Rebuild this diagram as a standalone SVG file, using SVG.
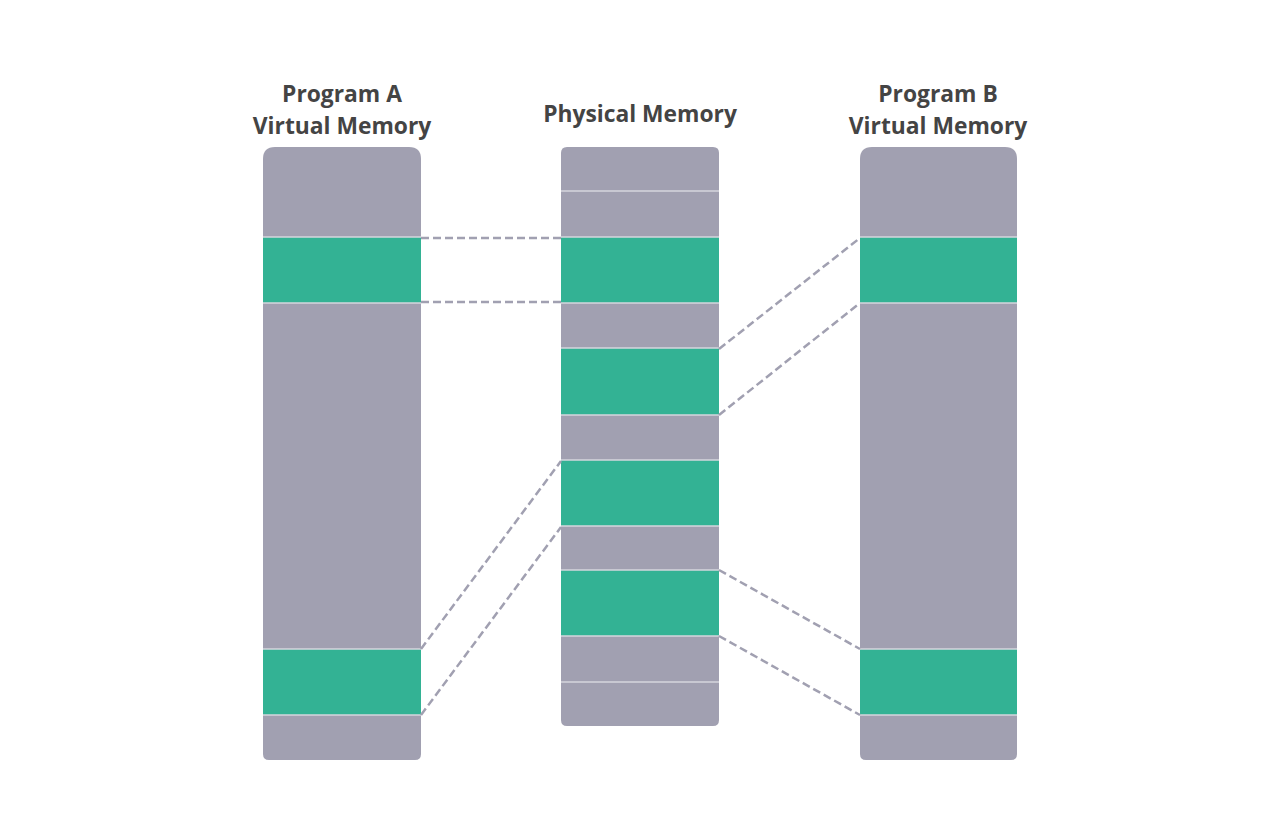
<svg xmlns="http://www.w3.org/2000/svg" width="1280" height="832" viewBox="0 0 1280 832">
<style>
.g{fill:#A1A0B1}
.s{fill:#33B294}
.sep{stroke:#D6D6DE;stroke-width:1.5}
.t{font-family:"Open Sans","Liberation Sans",sans-serif;font-weight:bold;font-size:22.8px;fill:#444444;text-anchor:middle}
.c{stroke:#A1A0B1;stroke-width:2.5;stroke-dasharray:8 4;fill:none}
</style>
<rect width="1280" height="832" fill="#FFFFFF"/>
<g id="progA">
<text class="t" x="342" y="102">Program A</text>
<text class="t" x="342" y="134">Virtual Memory</text>
<path class="g" d="M263,159 Q263,147 275,147 L409,147 Q421,147 421,159 L421,754 Q421,760 415,760 L269,760 Q263,760 263,754 Z"/>
<rect class="s" x="263" y="237" width="158" height="66"/>
<rect class="s" x="263" y="649" width="158" height="66"/>
<line class="sep" x1="263" y1="237" x2="421" y2="237"/>
<line class="sep" x1="263" y1="303" x2="421" y2="303"/>
<line class="sep" x1="263" y1="649" x2="421" y2="649"/>
<line class="sep" x1="263" y1="715" x2="421" y2="715"/>
</g>
<g id="physical">
<text class="t" x="640" y="122">Physical Memory</text>
<path class="g" d="M561,153 Q561,147 567,147 L713,147 Q719,147 719,153 L719,720 Q719,726 713,726 L567,726 Q561,726 561,720 Z"/>
<rect class="s" x="561" y="237" width="158" height="66"/>
<rect class="s" x="561" y="348" width="158" height="67"/>
<rect class="s" x="561" y="460" width="158" height="66"/>
<rect class="s" x="561" y="570" width="158" height="66"/>
<line class="sep" x1="561" y1="191" x2="719" y2="191"/>
<line class="sep" x1="561" y1="237" x2="719" y2="237"/>
<line class="sep" x1="561" y1="303" x2="719" y2="303"/>
<line class="sep" x1="561" y1="348" x2="719" y2="348"/>
<line class="sep" x1="561" y1="415" x2="719" y2="415"/>
<line class="sep" x1="561" y1="460" x2="719" y2="460"/>
<line class="sep" x1="561" y1="526" x2="719" y2="526"/>
<line class="sep" x1="561" y1="570" x2="719" y2="570"/>
<line class="sep" x1="561" y1="636" x2="719" y2="636"/>
<line class="sep" x1="561" y1="682" x2="719" y2="682"/>
</g>
<g id="progB">
<text class="t" x="938" y="102">Program B</text>
<text class="t" x="938" y="134">Virtual Memory</text>
<path class="g" d="M860,159 Q860,147 872,147 L1005,147 Q1017,147 1017,159 L1017,754 Q1017,760 1011,760 L866,760 Q860,760 860,754 Z"/>
<rect class="s" x="860" y="237" width="157" height="66"/>
<rect class="s" x="860" y="649" width="157" height="66"/>
<line class="sep" x1="860" y1="237" x2="1017" y2="237"/>
<line class="sep" x1="860" y1="303" x2="1017" y2="303"/>
<line class="sep" x1="860" y1="649" x2="1017" y2="649"/>
<line class="sep" x1="860" y1="715" x2="1017" y2="715"/>
</g>
<g id="connectors">
<line class="c" x1="421" y1="238" x2="561" y2="238"/>
<line class="c" x1="421" y1="302" x2="561" y2="302"/>
<line class="c" x1="421" y1="649" x2="561" y2="461"/>
<line class="c" x1="421" y1="715" x2="561" y2="527"/>
<line class="c" x1="719" y1="349" x2="860" y2="238"/>
<line class="c" x1="719" y1="415" x2="860" y2="303"/>
<line class="c" x1="719" y1="570" x2="860" y2="649"/>
<line class="c" x1="719" y1="636" x2="860" y2="715"/>
</g>
</svg>
